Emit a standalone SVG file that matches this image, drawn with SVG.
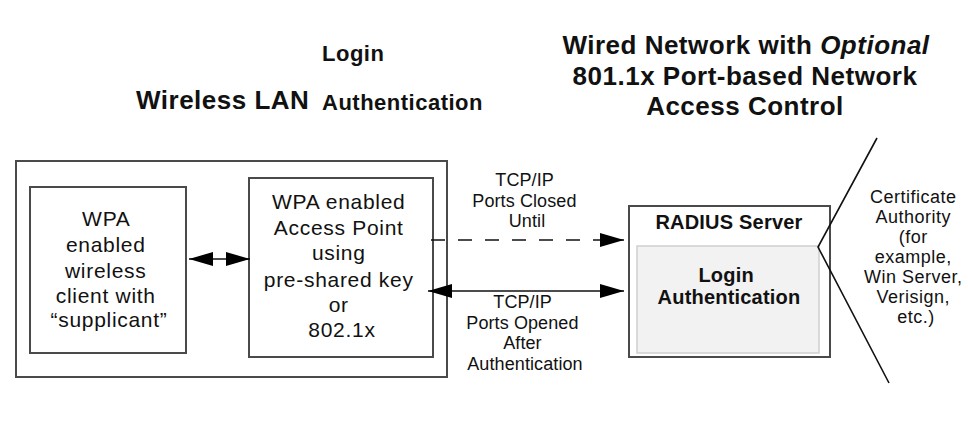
<svg xmlns="http://www.w3.org/2000/svg" width="968" height="432" viewBox="0 0 968 432">
<style>
.box{fill:#fff;stroke:#4a4a4a;stroke-width:2}
.inner{fill:#f2f2f2;stroke:#cfcfcf;stroke-width:1.5}
.t{font-family:"Liberation Sans",Arial,sans-serif;fill:#111}
.body{font-size:21px;letter-spacing:0.7px}
.small{font-size:18px;letter-spacing:0.1px}
.title{font-size:26px;font-weight:bold;letter-spacing:0.5px}
.sub{font-size:22px;font-weight:bold;letter-spacing:0.5px}
.bold20{font-size:20px;font-weight:bold;letter-spacing:0.2px}
.line{stroke:#111;stroke-width:1.6;fill:none}
</style>
<defs>
<marker id="ah" markerUnits="userSpaceOnUse" markerWidth="24" markerHeight="14" refX="24" refY="7" orient="auto-start-reverse" viewBox="0 0 24 14">
<path d="M0,0 L24,7 L0,14 z" fill="#000"/>
</marker>
</defs>
<rect width="968" height="432" fill="#fff"/>

<g id="titles">
<text class="t title" x="136" y="109">Wireless LAN</text>
<text class="t sub" x="322" y="61">Login</text>
<text class="t sub" x="322" y="110">Authentication</text>
<text class="t title" x="746" y="54" text-anchor="middle">Wired Network with <tspan font-style="italic">Optional</tspan></text>
<text class="t title" x="745" y="85" text-anchor="middle">801.1x Port-based Network</text>
<text class="t title" x="745" y="115" text-anchor="middle">Access Control</text>
</g>

<g id="wireless-lan">
<rect class="box" x="16" y="161" width="431" height="216"/>
</g>

<g id="client">
<rect class="box" x="30" y="187" width="156" height="166"/>
<text class="t body" text-anchor="middle">
<tspan x="109" y="226">WPA</tspan>
<tspan x="109" y="252">enabled</tspan>
<tspan x="109" y="278">wireless</tspan>
<tspan x="109" y="303">client with</tspan>
<tspan x="109" y="327">“supplicant”</tspan>
</text>
</g>

<g id="access-point">
<rect class="box" x="249" y="178" width="184" height="179"/>
<text class="t body" text-anchor="middle">
<tspan x="342" y="209">WPA enabled</tspan>
<tspan x="342" y="235">Access Point</tspan>
<tspan x="342" y="260">using</tspan>
<tspan x="342" y="287">pre-shared key</tspan>
<tspan x="342" y="312">or</tspan>
<tspan x="342" y="337">802.1x</tspan>
</text>
</g>

<g id="radius-server">
<rect class="box" x="629" y="206" width="201" height="151"/>
<rect class="inner" x="637" y="246" width="182" height="107"/>
<text class="t bold20" x="729" y="229" text-anchor="middle">RADIUS Server</text>
<text class="t bold20" text-anchor="middle">
<tspan x="729" y="282">Login</tspan>
<tspan x="729" y="304">Authentication</tspan>
</text>
</g>

<g id="certificate-authority">
<text class="t small" text-anchor="middle" style="letter-spacing:0.5px">
<tspan x="916" y="203">Certificate</tspan>
<tspan x="916" y="223">Authority</tspan>
<tspan x="916" y="243">(for</tspan>
<tspan x="916" y="263">example,</tspan>
<tspan x="916" y="283">Win Server,</tspan>
<tspan x="916" y="303">Verisign,</tspan>
<tspan x="916" y="323">etc.)</tspan>
</text>
</g>

<g id="connectors">
<line class="line" x1="189" y1="259" x2="250" y2="259" marker-start="url(#ah)" marker-end="url(#ah)"/>
<line class="line" x1="431" y1="240" x2="624" y2="240" stroke-dasharray="14 13" marker-end="url(#ah)"/>
<line class="line" x1="428" y1="291" x2="624" y2="291" marker-start="url(#ah)" marker-end="url(#ah)"/>
<polyline class="line" points="877,138 818,247 889,383" stroke-width="1.3"/>
<text class="t small" text-anchor="middle">
<tspan x="527" y="186">TCP/IP</tspan>
<tspan x="527" y="207">Ports Closed</tspan>
<tspan x="527" y="227">Until</tspan>
</text>
<text class="t small" text-anchor="middle">
<tspan x="525" y="308">TCP/IP</tspan>
<tspan x="525" y="329">Ports Opened</tspan>
<tspan x="525" y="349">After</tspan>
<tspan x="525" y="370">Authentication</tspan>
</text>
</g>
</svg>
